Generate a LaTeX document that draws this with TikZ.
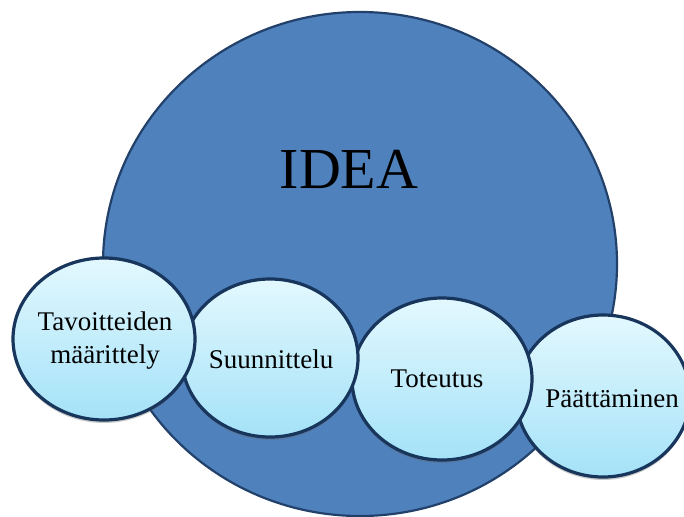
\documentclass[tikz,border=0pt]{standalone}
\usepackage{fontspec}
\setmainfont{Liberation Serif}
\usetikzlibrary{shadows,shapes.geometric}
\definecolor{bigfill}{HTML}{4F81BD}
\definecolor{bigline}{HTML}{22416A}
\definecolor{stepline}{HTML}{18355C}
\definecolor{steptop}{HTML}{E3F8FE}
\definecolor{stepbot}{HTML}{A4E2F8}
\tikzset{
  bigcirc/.style={ellipse, draw=bigline, line width=2.2pt, fill=bigfill, minimum width=514pt, minimum height=504pt, inner sep=0pt},
  stepell/.style={ellipse, draw=stepline, line width=3.2pt, top color=steptop, bottom color=stepbot,
     inner sep=0pt, drop shadow={opacity=0.35, shadow xshift=0pt, shadow yshift=-3pt, fill=black!60}},
  lbl/.style={font=\fontsize{27}{33}\selectfont, align=center, anchor=base, inner sep=0pt},
}
\begin{document}
\begin{tikzpicture}[x=1pt,y=-1pt]
\useasboundingbox (0,0) rectangle (684,516);
\clip (0,0) rectangle (684,516);
\node[bigcirc] (idea) at (360,264) {};
\node[font=\fontsize{58}{60}\selectfont, anchor=base, inner sep=0pt] (idealbl) at (349,188) {IDEA};
\node[stepell, minimum width=174pt, minimum height=162pt] (e4) at (603,396) {};
\node[stepell, minimum width=180pt, minimum height=162pt] (e3) at (442,379) {};
\node[stepell, minimum width=176pt, minimum height=158pt] (e2) at (270,358) {};
\node[stepell, minimum width=182pt, minimum height=162pt] (e1) at (104,339) {};
\node[lbl] (t1) at (105,363) {Tavoitteiden\\määrittely};
\node[lbl] (t2) at (271,368) {Suunnittelu};
\node[lbl] (t3) at (437,387) {Toteutus};
\node[lbl] (t4) at (612,407) {Päättäminen};
\end{tikzpicture}
\end{document}
